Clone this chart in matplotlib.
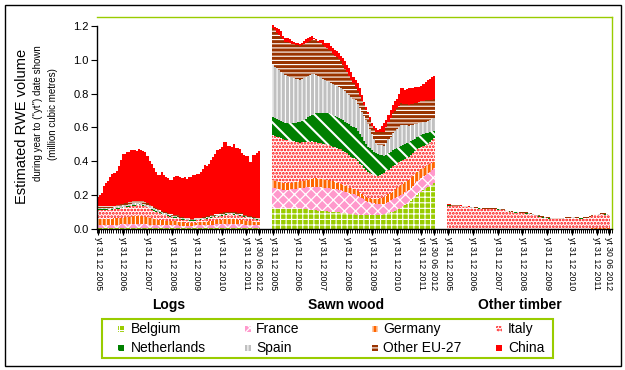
import numpy as np
import matplotlib
matplotlib.use('Agg')
import matplotlib.pyplot as plt
from matplotlib.patches import Rectangle

plt.rcParams['font.family'] = ['Liberation Sans', 'DejaVu Sans']
plt.rcParams['hatch.linewidth'] = 1.0

countries = ['Belgium', 'France', 'Germany', 'Italy', 'Netherlands', 'Spain', 'Other EU-27', 'China']
groups = ['Logs', 'Sawn wood', 'Other timber']
tick_months = [0, 12, 24, 36, 48, 60, 72, 78]
tick_labels = ['yt 31 12 2005', 'yt 31 12 2006', 'yt 31 12 2007', 'yt 31 12 2008',
               'yt 31 12 2009', 'yt 31 12 2010', 'yt 31 12 2011', 'yt 30 06 2012']

# ---------------- Logs ----------------
logs_belgium = [
 .002,.002,.002,.002,.002,.002,.002,.002,.002,.002,
 .002,.002,.002,.002,.002,.002,.002,.002,.002,.002,
 .002,.002,.002,.002,.002,.002,.002,.002,.002,.002,
 .002,.002,.002,.002,.002,.002,.002,.002,.002,.002,
 .002,.002,.002,.002,.002,.002,.002,.002,.002,.002,
 .002,.002,.002,.002,.002,.002,.002,.002,.002,.002,
 .002,.002,.002,.002,.002,.002,.002,.002,.002,.002,
 .002,.002,.002,.002,.002,.002,.002,.002,.002]
logs_france = [
 .020,.020,.020,.020,.021,.021,.021,.022,.022,.022,
 .022,.023,.023,.023,.024,.024,.024,.025,.025,.025,
 .025,.025,.024,.024,.023,.022,.021,.020,.020,.019,
 .019,.018,.018,.018,.017,.017,.017,.017,.017,.017,
 .016,.016,.016,.016,.016,.016,.016,.017,.017,.018,
 .018,.019,.020,.020,.021,.022,.022,.023,.023,.024,
 .024,.025,.025,.025,.025,.025,.025,.024,.024,.023,
 .023,.022,.021,.020,.020,.019,.018,.018,.017]
logs_germany = [
 .035,.035,.034,.034,.034,.035,.035,.036,.037,.038,
 .039,.040,.041,.042,.043,.044,.045,.046,.046,.047,
 .047,.046,.045,.044,.042,.040,.038,.036,.034,.032,
 .031,.030,.029,.028,.027,.026,.025,.024,.024,.023,
 .020,.019,.018,.017,.016,.016,.016,.016,.017,.017,
 .018,.018,.019,.020,.021,.022,.023,.024,.025,.026,
 .027,.028,.029,.030,.030,.030,.030,.029,.028,.027,
 .026,.025,.024,.023,.022,.021,.020,.019,.018]
logs_italy = [
 .055,.055,.054,.054,.053,.053,.053,.052,.054,.056,
 .056,.055,.058,.060,.060,.060,.062,.064,.064,.066,
 .066,.065,.064,.063,.060,.056,.052,.048,.045,.043,
 .040,.037,.035,.033,.030,.027,.025,.023,.022,.020,
 .018,.017,.016,.015,.014,.013,.013,.013,.013,.014,
 .014,.015,.016,.017,.018,.019,.020,.021,.022,.023,
 .025,.026,.027,.028,.028,.028,.027,.026,.025,.024,
 .023,.022,.020,.019,.018,.017,.015,.014,.013]
logs_netherlands = [
 .004,.004,.004,.004,.004,.004,.004,.004,.004,.004,
 .004,.004,.004,.004,.004,.004,.004,.004,.004,.004,
 .004,.004,.004,.004,.004,.004,.004,.004,.004,.004,
 .004,.003,.003,.003,.003,.003,.003,.003,.003,.003,
 .003,.003,.003,.003,.003,.003,.003,.003,.003,.003,
 .003,.003,.003,.003,.003,.003,.003,.003,.003,.003,
 .003,.003,.003,.003,.003,.003,.003,.003,.003,.003,
 .003,.002,.002,.002,.002,.002,.002,.002,.002]
logs_spain = [
 .008,.008,.008,.008,.008,.008,.008,.008,.008,.008,
 .010,.010,.010,.010,.010,.010,.010,.010,.010,.010,
 .010,.010,.010,.010,.010,.010,.010,.010,.010,.010,
 .006,.006,.006,.006,.006,.006,.006,.006,.006,.006,
 .004,.004,.004,.004,.004,.004,.004,.004,.004,.004,
 .005,.005,.005,.005,.005,.005,.005,.005,.005,.005,
 .005,.005,.005,.005,.005,.005,.005,.005,.005,.005,
 .005,.005,.005,.005,.005,.005,.005,.005,.005]
logs_other = [
 .010,.010,.010,.010,.010,.010,.010,.010,.010,.010,
 .010,.010,.010,.012,.012,.012,.012,.012,.012,.012,
 .012,.012,.012,.012,.012,.008,.008,.008,.008,.008,
 .008,.008,.008,.008,.008,.008,.008,.008,.008,.008,
 .008,.006,.006,.006,.006,.006,.006,.006,.006,.006,
 .006,.006,.006,.006,.006,.006,.008,.008,.008,.008,
 .008,.008,.008,.008,.008,.008,.008,.008,.008,.008,
 .008,.006,.006,.006,.006,.006,.006,.006,.006]
logs_china = [
 .055,.065,.080,.120,.140,.150,.170,.190,.195,.200,
 .230,.260,.295,.290,.300,.300,.305,.300,.300,.295,
 .305,.300,.300,.295,.280,.260,.250,.230,.215,.200,
 .205,.230,.215,.210,.205,.200,.205,.220,.230,.232,
 .233,.235,.238,.230,.242,.245,.255,.254,.262,.260,
 .270,.288,.305,.300,.308,.325,.340,.357,.375,.382,
 .390,.415,.412,.390,.390,.380,.400,.382,.385,.380,
 .360,.355,.350,.355,.320,.362,.368,.382,.395]

# ---------------- Sawn wood ----------------
sawn_belgium = [
 .124,.124,.123,.122,.122,.121,.120,
 .120,.120,.120,.120,.120,.120,.120,
 .119,.117,.116,.114,.113,.112,.110,
 .109,.107,.106,.104,.103,.102,.100,
 .099,.098,.097,.097,.096,.095,
 .093,.091,.090,.088,.086,.085,.083,
 .083,.082,.082,.082,.081,.081,
 .081,.081,.081,.081,
 .082,.083,.084,.085,
 .088,.092,.096,.100,
 .106,.112,.118,.125,
 .132,.140,.148,.155,
 .166,.178,.189,.200,
 .210,.220,.230,.240,
 .247,.254,.261,.268]
sawn_france = [
 .115,.114,.113,.112,.111,.110,.109,
 .110,.112,.113,.115,.116,.118,.119,
 .122,.125,.128,.131,.134,.137,.139,
 .140,.140,.140,.139,.139,.139,.139,
 .138,.137,.136,.136,.135,.134,
 .132,.129,.127,.124,.122,.119,.117,
 .111,.104,.098,.091,.085,.079,
 .076,.073,.070,.067,
 .065,.063,.062,.060,
 .064,.068,.071,.075,
 .075,.075,.075,.075,
 .075,.075,.075,.075,
 .076,.077,.079,.080,
 .080,.080,.080,.080,
 .082,.084,.087,.089]
sawn_germany = [
 .049,.047,.046,.044,.042,.041,.039,
 .039,.039,.040,.040,.040,.041,.041,
 .042,.043,.044,.046,.047,.048,.049,
 .049,.049,.049,.049,.049,.049,.049,
 .047,.045,.042,.040,.038,.036,
 .035,.034,.033,.031,.030,.029,.028,
 .027,.025,.024,.023,.021,.020,
 .022,.024,.025,.027,
 .030,.034,.037,.040,
 .041,.043,.044,.045,
 .049,.053,.056,.060,
 .060,.060,.060,.060,
 .059,.058,.056,.055,
 .054,.053,.051,.050,
 .047,.044,.042,.039]
sawn_italy = [
 .266,.265,.263,.262,.260,.259,.257,
 .253,.249,.245,.241,.238,.234,.230,
 .228,.226,.224,.222,.221,.219,.217,
 .216,.214,.213,.211,.210,.208,.207,
 .207,.206,.206,.206,.205,.205,
 .202,.198,.195,.192,.188,.185,.182,
 .178,.174,.170,.165,.161,.157,
 .152,.146,.141,.135,
 .137,.140,.142,.145,
 .146,.147,.149,.150,
 .148,.145,.143,.140,
 .139,.138,.137,.136,
 .136,.136,.135,.135,
 .132,.130,.128,.125,
 .128,.132,.135,.139]
sawn_netherlands = [
 .109,.107,.105,.104,.102,.100,.098,
 .101,.104,.107,.110,.114,.117,.120,
 .126,.133,.139,.146,.152,.159,.165,
 .169,.172,.176,.179,.183,.186,.190,
 .188,.186,.185,.183,.182,.180,
 .181,.181,.182,.183,.183,.184,.185,
 .179,.173,.166,.160,.154,.148,
 .145,.141,.138,.135,
 .126,.118,.109,.100,
 .099,.098,.096,.095,
 .094,.093,.091,.090,
 .089,.087,.086,.084,
 .080,.077,.073,.070,
 .070,.070,.069,.069,
 .063,.057,.051,.045]
sawn_spain = [
 .305,.302,.299,.296,.293,.290,.287,
 .282,.276,.271,.266,.260,.255,.250,
 .248,.246,.244,.243,.241,.239,.237,
 .229,.221,.213,.206,.198,.190,.182,
 .183,.183,.184,.184,.185,.185,
 .182,.179,.176,.174,.171,.168,.165,
 .160,.155,.150,.145,.140,.135,
 .115,.095,.075,.055,
 .056,.057,.059,.060,
 .070,.080,.089,.099,
 .105,.111,.116,.122,
 .117,.111,.106,.100,
 .095,.090,.085,.080,
 .077,.075,.072,.069,
 .070,.071,.072,.073]
sawn_other = [
 .217,.214,.210,.207,.204,.200,.197,
 .197,.198,.198,.199,.199,.200,.200,
 .200,.201,.201,.202,.202,.203,.203,
 .202,.200,.199,.197,.196,.194,.193,
 .187,.180,.174,.168,.161,.155,
 .144,.134,.123,.112,.101,.091,.080,
 .076,.072,.068,.065,.061,.057,
 .054,.050,.060,.070,
 .074,.078,.081,.085,
 .093,.101,.110,.118,
 .121,.124,.127,.130,
 .128,.126,.124,.122,
 .123,.124,.124,.125,
 .126,.126,.127,.127,
 .123,.119,.116,.112]
sawn_china = [
 .020,.022,.026,.033,.036,.019,.023,.024,.022,.016,
 .012,.010,.012,.015,.015,.021,.024,.026,.025,.023,
 .010,.011,.009,.019,.031,.022,.032,.040,.031,.032,
 .036,.036,.035,.030,.041,.044,.044,.046,.049,.039,
 .040,.046,.045,.032,.019,.017,.013,.015,.015,.015,
 .024,.015,.017,.031,.050,.044,.041,.045,.048,.057,
 .057,.074,.088,.090,.083,.089,.098,.095,.090,.099,
 .095,.091,.091,.098,.110,.120,.124,.131,.140]

# ---------------- Other timber ----------------
other_germany = [
 .001,.001,.001,.001,.001,.001,.001,.001,.001,.001,
 .001,.001,.001,.001,.001,.001,.001,.001,.001,.001,
 .001,.001,.001,.001,.001,.001,.001,.001,.001,.001,
 .001,.001,.001,.001,.001,.001,.001,.001,.001,.001,
 .001,.001,.001,.001,.001,.001,.001,.001,.001,.001,
 .001,.001,.001,.001,.001,.001,.001,.001,.001,.001,
 .001,.001,.001,.001,.001,.001,.001,.001,.001,.001,
 .002,.002,.002,.002,.002,.002,.002,.002,.002]
other_italy = [
 .136,.136,.134,.131,.131,.131,.129,.128,.127,.125,
 .123,.123,.123,.121,.119,.118,.117,.116,.115,.114,
 .113,.113,.113,.113,.112,.111,.109,.107,.105,.103,
 .100,.097,.093,.093,.092,.091,.090,.090,.088,.086,
 .083,.081,.078,.075,.071,.068,.065,.063,.061,.059,
 .057,.055,.054,.055,.056,.057,.058,.060,.061,.063,
 .064,.064,.063,.061,.059,.059,.060,.061,.063,.068,
 .073,.078,.080,.081,.083,.083,.082,.081,.080]
other_netherlands = [
 .001,.001,.001,.001,.001,.001,.001,.001,.001,.001,
 .001,.001,.001,.001,.001,.001,.001,.001,.001,.001,
 .001,.001,.001,.001,.001,.001,.001,.001,.001,.001,
 .001,.001,.002,.002,.002,.002,.002,.002,.002,.002,
 .002,.002,.002,.002,.002,.002,.002,.002,.002,.002,
 .002,.002,.002,.001,.001,.001,.001,.001,.001,.001,
 .001,.001,.001,.001,.001,.001,.001,.001,.001,.001,
 .001,.001,.001,.001,.001,.001,.001,.001,.001]
other_spain = [
 .001,.001,.001,.001,.001,.001,.001,.001,.001,.001,
 .001,.001,.001,.001,.001,.001,.001,.001,.001,.001,
 .001,.001,.001,.001,.001,.001,.001,.001,.001,.001,
 .001,.001,.001,.001,.001,.001,.001,.001,.001,.001,
 .001,.001,.001,.001,.001,.001,.001,.001,.001,.001,
 .001,.001,.001,.001,.001,.001,.001,.001,.001,.001,
 .001,.001,.001,.001,.001,.001,.001,.001,.001,.001,
 .001,.001,.001,.001,.001,.001,.001,.001,.001]
other_other = [
 .004,.004,.004,.004,.004,.004,.004,.004,.004,.004,
 .004,.004,.004,.004,.004,.004,.004,.004,.004,.004,
 .004,.004,.004,.004,.004,.004,.004,.004,.004,.004,
 .004,.004,.004,.004,.004,.004,.004,.004,.004,.004,
 .004,.004,.004,.004,.004,.004,.004,.004,.004,.004,
 .004,.004,.004,.004,.004,.004,.004,.004,.004,.004,
 .004,.004,.004,.004,.004,.004,.004,.004,.004,.004,
 .004,.004,.004,.004,.004,.004,.004,.004,.004]
other_china = [
 .002,.002,.002,.002,.002,.002,.002,.002,.002,.002,
 .002,.000,.000,.000,.000,.000,.000,.000,.000,.000,
 .000,.000,.000,.000,.000,.000,.000,.000,.000,.000,
 .000,.000,.000,.000,.000,.000,.000,.000,.000,.000,
 .000,.000,.000,.000,.000,.000,.000,.000,.000,.000,
 .000,.000,.000,.000,.000,.000,.000,.000,.000,.000,
 .000,.000,.000,.000,.000,.000,.000,.000,.000,.000,
 .000,.000,.000,.000,.000,.000,.000,.000,.000]

N_MONTHS = 79
group_series = [
    {'Belgium': logs_belgium, 'France': logs_france, 'Germany': logs_germany,
     'Italy': logs_italy, 'Netherlands': logs_netherlands, 'Spain': logs_spain,
     'Other EU-27': logs_other, 'China': logs_china},
    {'Belgium': sawn_belgium, 'France': sawn_france, 'Germany': sawn_germany,
     'Italy': sawn_italy, 'Netherlands': sawn_netherlands, 'Spain': sawn_spain,
     'Other EU-27': sawn_other, 'China': sawn_china},
    {'Germany': other_germany, 'Italy': other_italy, 'Netherlands': other_netherlands,
     'Spain': other_spain, 'Other EU-27': other_other, 'China': other_china},
]
for gs in group_series:
    for k, v in gs.items():
        if len(v) != N_MONTHS:
            raise ValueError(f'{k}: {len(v)}')

styles = {
    'Belgium': dict(facecolor='#99CC00', edgecolor='white', hatch='+++', hlw=0.8),
    'France': dict(facecolor='#FF99CC', edgecolor='white', hatch='xxx', hlw=0.9),
    'Germany': dict(facecolor='#FF6600', edgecolor='white', hatch='||||', hlw=0.8),
    'Italy': dict(facecolor='white', edgecolor='#FF0000', hatch='.....', hlw=1.3),
    'Netherlands': dict(facecolor='#008000', edgecolor='white', hatch='\\\\', hlw=1.5),
    'Spain': dict(facecolor='#C0C0C0', edgecolor='white', hatch='||||', hlw=0.8),
    'Other EU-27': dict(facecolor='#993300', edgecolor='white', hatch='----', hlw=0.8),
    'China': dict(facecolor='#FF0000', edgecolor='#FF0000', hatch=None, hlw=1.0),
}

def apply_hlw(p, lw):
    if hasattr(p, 'set_hatch_linewidth'):
        p.set_hatch_linewidth(lw)

W, H = 625, 370
fig = plt.figure(figsize=(W / 100, H / 100), dpi=100)
ax = fig.add_axes([97 / W, 1 - 228.7 / H, (612 - 97) / W, (228.7 - 17) / H])

GAP = 6
offsets = [g * (N_MONTHS + GAP) for g in range(3)]
total_slots = 3 * N_MONTHS + 2 * GAP + 1

for g, off in enumerate(offsets):
    edges = np.arange(N_MONTHS + 1) + off - 0.5
    base = np.zeros(N_MONTHS)
    for c in countries:
        if c not in group_series[g]:
            continue
        vals = np.asarray(group_series[g][c], dtype=float)
        top = base + vals
        st = styles[c]
        p = ax.stairs(top, edges, baseline=base, fill=True, facecolor=st['facecolor'],
                      edgecolor=st['edgecolor'], hatch=st['hatch'], linewidth=0)
        apply_hlw(p, st['hlw'])
        base = top

ax.set_xlim(-0.5, total_slots - 0.5)
ax.set_ylim(0, 1.2527)
ax.set_yticks(np.arange(0, 1.21, 0.2))
ax.set_yticklabels([f'{v:.1f}' for v in np.arange(0, 1.21, 0.2)], fontsize=8)

major_pos, major_lab = [], []
for off in offsets:
    for m, lab in zip(tick_months, tick_labels):
        major_pos.append(off + m)
        major_lab.append(lab)
ax.set_xticks(major_pos)
ax.set_xticklabels(major_lab, rotation=-90, fontsize=6.3, ha='center', va='top')
ax.set_xticks(np.arange(total_slots + 1) - 0.5, minor=True)
ax.tick_params(axis='x', which='major', length=4, width=0.8, pad=2, direction='out')
ax.tick_params(axis='x', which='minor', length=3, width=0.7, direction='out')
ax.tick_params(axis='y', length=4, width=0.8, pad=2, direction='out')

ax.spines['left'].set_bounds(0, 1.2)
ax.spines['left'].set_color('black')
ax.spines['bottom'].set_color('black')
ax.spines['top'].set_color('#99CC00')
ax.spines['right'].set_color('#99CC00')
for s in ax.spines.values():
    s.set_linewidth(1.0)

# axis titles
fig.text(22 / W, 1 - 126 / H, 'Estimated RWE volume', rotation=90, fontsize=10.5,
         ha='center', va='center')
fig.text(38.5 / W, 1 - 113 / H, 'during year to ("yt") date shown', rotation=90,
         fontsize=7, ha='center', va='center')
fig.text(53.5 / W, 1 - 114 / H, '(million cubic metres)', rotation=90,
         fontsize=7, ha='center', va='center')

group_x = [169, 346, 520]
for name, gx in zip(groups, group_x):
    fig.text(gx / W, 1 - 305 / H, name, fontsize=10, fontweight='bold',
             ha='center', va='center')

# legend (drawn as a boxed key, Excel-like equal columns)
fig.patches.append(Rectangle((102 / W, 1 - 358 / H), (553 - 102) / W, (358 - 319) / H,
                             transform=fig.transFigure, facecolor='white',
                             edgecolor='#99CC00', linewidth=1.5))
legend_order = [['Belgium', 'France', 'Germany', 'Italy'],
                ['Netherlands', 'Spain', 'Other EU-27', 'China']]
col_hx = [118, 245, 372, 496]
col_tx = [131, 256, 383, 508]
row_y = [329, 348]
for r, row in enumerate(legend_order):
    for cidx, c in enumerate(row):
        st = styles[c]
        hp = Rectangle((col_hx[cidx] / W, 1 - (row_y[r] + 3) / H), 6 / W, 6 / H,
                       transform=fig.transFigure, facecolor=st['facecolor'],
                       edgecolor=st['edgecolor'], hatch=st['hatch'], linewidth=0)
        apply_hlw(hp, st['hlw'])
        fig.patches.append(hp)
        fig.text(col_tx[cidx] / W, 1 - row_y[r] / H, c, fontsize=10,
                 ha='left', va='center')

# outer frame
fig.patches.append(Rectangle((4.5 / W, 4.5 / H), (620.5 - 4.5) / W, (365.5 - 4.5) / H,
                             transform=fig.transFigure, fill=False,
                             edgecolor='black', linewidth=1.0))

fig.savefig('out.png', dpi=100)
